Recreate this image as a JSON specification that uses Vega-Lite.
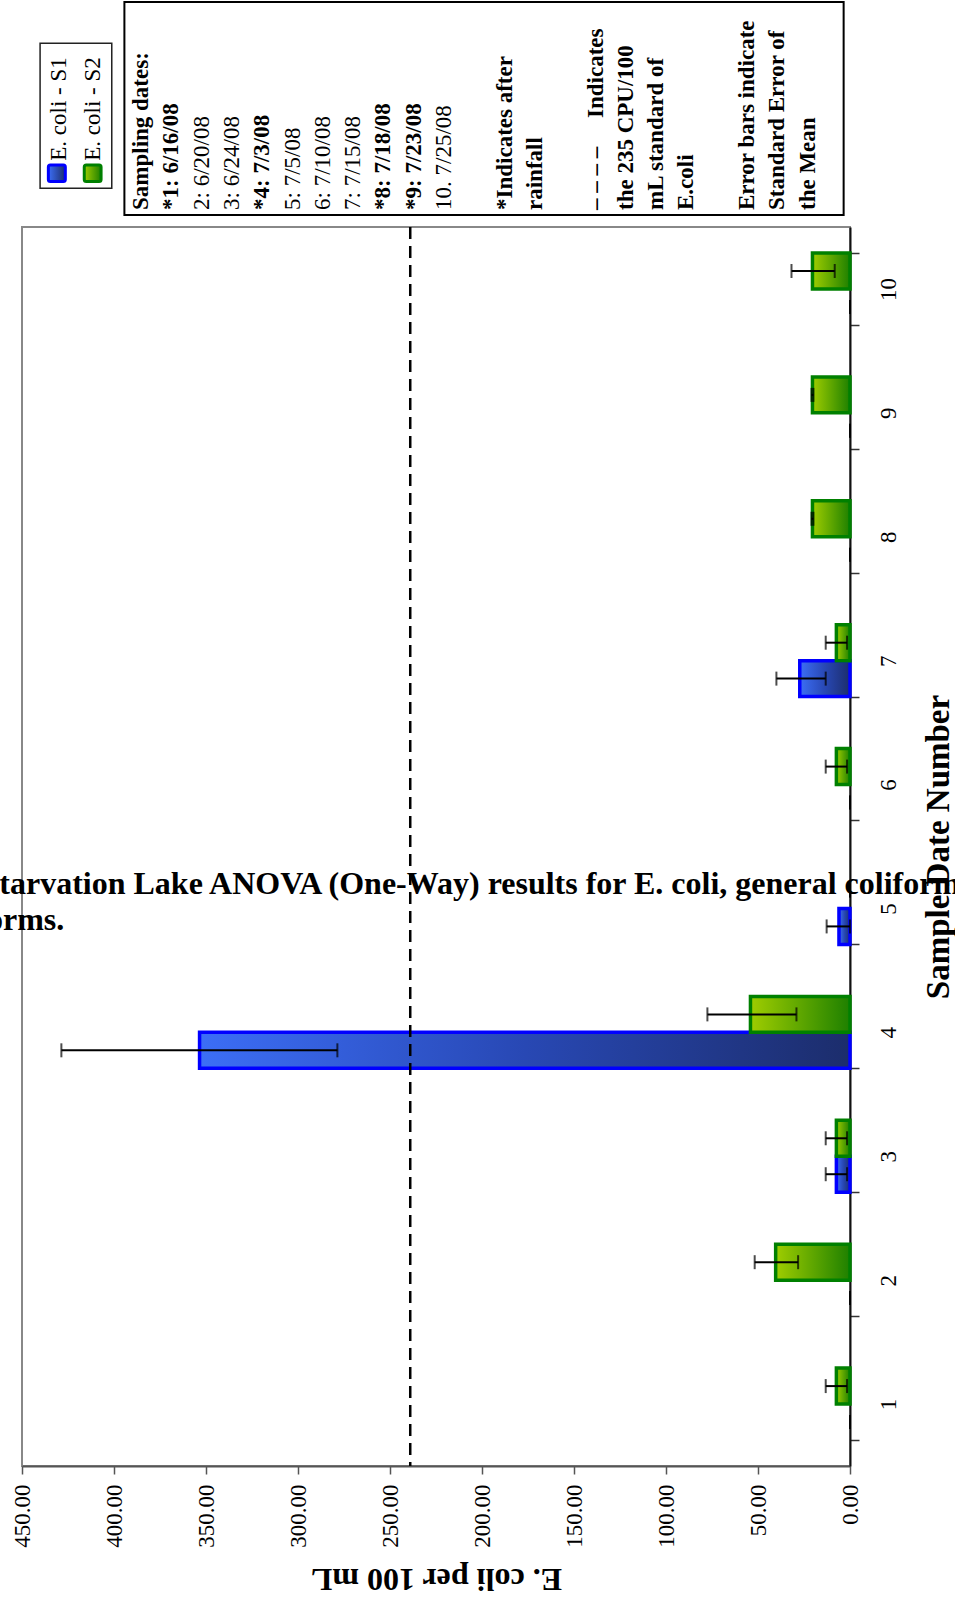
{
  "$schema": "https://vega.github.io/schema/vega-lite/v6.json",
  "width": 828,
  "height": 1239,
  "autosize": {"type": "none"},
  "padding": {"left": 22, "top": 227, "right": 105, "bottom": 138},
  "config": {
    "font": "Liberation Serif",
    "view": {"stroke": "#888888", "strokeWidth": 2},
    "axis": {"labelFont": "Liberation Serif", "titleFont": "Liberation Serif", "labelColor": "black", "titleColor": "black", "grid": false},
    "axisY": {
      "labelAngle": 270, "labelAlign": "center", "labelBaseline": "top",
      "labelFontSize": 23, "labelPadding": 18, "tickSize": 9, "tickBand": "extent",
      "tickColor": "#333333", "tickWidth": 1.5, "domainColor": "#111111", "domainWidth": 2,
      "titleAngle": 270, "titleBaseline": "top", "titleAlign": "center",
      "titleFontSize": 33, "titleFontWeight": "bold", "titlePadding": 22
    }
  },
  "datasets": {
    "bars": [
      {"sample": 1, "series": "S1", "value": 0, "lo": 0, "hi": 0},
      {"sample": 1, "series": "S2", "value": 7.4, "lo": 1.6, "hi": 13.2},
      {"sample": 2, "series": "S1", "value": 0, "lo": 0, "hi": 0},
      {"sample": 2, "series": "S2", "value": 40.4, "lo": 28.2, "hi": 51.8},
      {"sample": 3, "series": "S1", "value": 7.4, "lo": 1.6, "hi": 13.2},
      {"sample": 3, "series": "S2", "value": 7.4, "lo": 1.6, "hi": 13.2},
      {"sample": 4, "series": "S1", "value": 353.5, "lo": 278.6, "hi": 428.6},
      {"sample": 4, "series": "S2", "value": 54.1, "lo": 29.1, "hi": 77.5},
      {"sample": 5, "series": "S1", "value": 6.0, "lo": 0, "hi": 12.7},
      {"sample": 5, "series": "S2", "value": 0, "lo": 0, "hi": 0},
      {"sample": 6, "series": "S1", "value": 0, "lo": 0, "hi": 0},
      {"sample": 6, "series": "S2", "value": 7.4, "lo": 1.6, "hi": 13.2},
      {"sample": 7, "series": "S1", "value": 27.3, "lo": 13.2, "hi": 40.0},
      {"sample": 7, "series": "S2", "value": 7.4, "lo": 1.6, "hi": 13.2},
      {"sample": 8, "series": "S1", "value": 0, "lo": 0, "hi": 0},
      {"sample": 8, "series": "S2", "value": 20.4, "lo": 19.9, "hi": 20.9},
      {"sample": 9, "series": "S1", "value": 0, "lo": 0, "hi": 0},
      {"sample": 9, "series": "S2", "value": 20.4, "lo": 19.9, "hi": 20.9},
      {"sample": 10, "series": "S1", "value": 0, "lo": 0, "hi": 0},
      {"sample": 10, "series": "S2", "value": 20.4, "lo": 8.3, "hi": 31.8}
    ],
    "notes": [
      {"line": 0, "text": "Sampling dates:", "weight": "bold"},
      {"line": 1, "text": "*1: 6/16/08", "weight": "bold"},
      {"line": 2, "text": "2: 6/20/08", "weight": "normal"},
      {"line": 3, "text": "3: 6/24/08", "weight": "normal"},
      {"line": 4, "text": "*4: 7/3/08", "weight": "bold"},
      {"line": 5, "text": "5: 7/5/08", "weight": "normal"},
      {"line": 6, "text": "6: 7/10/08", "weight": "normal"},
      {"line": 7, "text": "7: 7/15/08", "weight": "normal"},
      {"line": 8, "text": "*8: 7/18/08", "weight": "bold"},
      {"line": 9, "text": "*9: 7/23/08", "weight": "bold"},
      {"line": 10, "text": "10. 7/25/08", "weight": "normal"},
      {"line": 12, "text": "*Indicates after", "weight": "bold"},
      {"line": 13, "text": "rainfall", "weight": "bold"},
      {"line": 15, "text": "– – – –\u00a0\u00a0\u00a0\u00a0\u00a0Indicates", "weight": "bold"},
      {"line": 16, "text": "the 235 CPU/100", "weight": "bold"},
      {"line": 17, "text": "mL standard of", "weight": "bold"},
      {"line": 18, "text": "E.coli", "weight": "bold"},
      {"line": 20, "text": "Error bars indicate", "weight": "bold"},
      {"line": 21, "text": "Standard Error of", "weight": "bold"},
      {"line": 22, "text": "the Mean", "weight": "bold"}
    ]
  },
  "layer": [
    {
      "layer": [
        {
          "data": {"name": "bars"},
          "transform": [{"filter": "datum.series === 'S1' && datum.value > 0"}],
          "mark": {
            "type": "bar",
            "fill": {"gradient": "linear", "x1": 0, "y1": 0, "x2": 1, "y2": 0,
              "stops": [{"offset": 0, "color": "#3c6ef6"}, {"offset": 0.5, "color": "#2848b4"}, {"offset": 1, "color": "#1c2d6c"}]},
            "stroke": "#0000ff",
            "strokeWidth": 3.5
          },
          "encoding": {
            "x": {
              "field": "value", "type": "quantitative",
              "scale": {"domain": [0, 450], "reverse": true, "nice": false, "zero": true},
              "axis": {
                "orient": "bottom", "title": "E. coli  per 100 mL",
                "values": [0, 50, 100, 150, 200, 250, 300, 350, 400, 450], "format": ".2f",
                "labelAngle": 270, "labelAlign": "right", "labelBaseline": "middle", "labelFontSize": 23,
                "labelOverlap": false, "labelFlush": false,
                "labelPadding": 10, "tickSize": 8, "tickColor": "#555555", "tickWidth": 1.5,
                "domainColor": "#555555", "domainWidth": 2,
                "titleAngle": 180, "titleBaseline": "bottom", "titleAlign": "center",
                "titleFontSize": 32, "titleFontWeight": "bold", "titlePadding": 14
              }
            },
            "y": {
              "field": "sample", "type": "ordinal", "sort": "descending",
              "scale": {"paddingInner": 0.42, "paddingOuter": 0.21},
              "axis": {"orient": "right", "title": "Sample Date Number"}
            },
            "yOffset": {"field": "series", "type": "nominal", "scale": {"domain": ["S2", "S1"], "paddingInner": 0, "paddingOuter": 0}}
          }
        },
        {
          "data": {"name": "bars"},
          "transform": [{"filter": "datum.series === 'S2' && datum.value > 0"}],
          "mark": {
            "type": "bar",
            "fill": {"gradient": "linear", "x1": 0, "y1": 0, "x2": 1, "y2": 0,
              "stops": [{"offset": 0, "color": "#9fcd00"}, {"offset": 1, "color": "#1e8000"}]},
            "stroke": "#008000",
            "strokeWidth": 3.5
          },
          "encoding": {
            "x": {"field": "value", "type": "quantitative", "axis": {"orient": "bottom", "title": "E. coli  per 100 mL"}},
            "y": {"field": "sample", "type": "ordinal", "sort": "descending", "axis": {"orient": "right", "title": "Sample Date Number"}},
            "yOffset": {"field": "series", "type": "nominal"}
          }
        },
        {
          "data": {"name": "bars"},
          "mark": {"type": "rule", "color": "black", "strokeWidth": 2},
          "encoding": {
            "x": {"field": "lo", "type": "quantitative", "axis": {"orient": "bottom", "title": "E. coli  per 100 mL"}},
            "x2": {"field": "hi"},
            "y": {"field": "sample", "type": "ordinal", "sort": "descending", "axis": {"orient": "right", "title": "Sample Date Number"}},
            "yOffset": {"field": "series", "type": "nominal"}
          }
        },
        {
          "data": {"name": "bars"},
          "mark": {"type": "tick", "color": "black", "thickness": 2, "size": 14, "orient": "vertical"},
          "encoding": {
            "x": {"field": "lo", "type": "quantitative", "axis": {"orient": "bottom", "title": "E. coli  per 100 mL"}},
            "y": {"field": "sample", "type": "ordinal", "sort": "descending", "axis": {"orient": "right", "title": "Sample Date Number"}},
            "yOffset": {"field": "series", "type": "nominal"}
          }
        },
        {
          "data": {"name": "bars"},
          "mark": {"type": "tick", "color": "black", "thickness": 2, "size": 14, "orient": "vertical"},
          "encoding": {
            "x": {"field": "hi", "type": "quantitative", "axis": {"orient": "bottom", "title": "E. coli  per 100 mL"}},
            "y": {"field": "sample", "type": "ordinal", "sort": "descending", "axis": {"orient": "right", "title": "Sample Date Number"}},
            "yOffset": {"field": "series", "type": "nominal"}
          }
        },
        {
          "data": {"values": [{"standard": 239}]},
          "mark": {"type": "rule", "color": "black", "strokeWidth": 2.5, "strokeDash": [12, 7]},
          "encoding": {
            "x": {"field": "standard", "type": "quantitative", "axis": {"orient": "bottom", "title": "E. coli  per 100 mL"}}
          }
        },
        {
          "data": {"values": [{"caption": "Starvation Lake ANOVA (One-Way) results for E. coli, general coliforms, and fecal"}]},
          "mark": {"type": "text", "align": "left", "baseline": "alphabetic", "dy": -14, "fontSize": 32, "fontWeight": "bold", "color": "black", "font": "Liberation Serif"},
          "encoding": {
            "x": {"datum": 472, "type": "quantitative", "axis": {"orient": "bottom", "title": "E. coli  per 100 mL"}},
            "y": {"datum": 5, "type": "ordinal", "axis": {"orient": "right", "title": "Sample Date Number"}},
            "text": {"field": "caption"}
          }
        },
        {
          "data": {"values": [{"caption": "coliforms."}]},
          "mark": {"type": "text", "align": "right", "baseline": "alphabetic", "dy": 22, "fontSize": 32, "fontWeight": "bold", "color": "black", "font": "Liberation Serif"},
          "encoding": {
            "x": {"datum": 427, "type": "quantitative", "axis": {"orient": "bottom", "title": "E. coli  per 100 mL"}},
            "y": {"datum": 5, "type": "ordinal", "axis": {"orient": "right", "title": "Sample Date Number"}},
            "text": {"field": "caption"}
          }
        }
      ]
    },
    {
      "layer": [
        {
          "data": {"values": [{"box": "notes"}]},
          "mark": {"type": "rect", "filled": false, "stroke": "black", "strokeWidth": 2},
          "encoding": {
            "x": {"datum": -0.55, "type": "quantitative", "scale": {"domain": [-3.93, 23.4], "nice": false, "zero": false}, "axis": null},
            "x2": {"datum": 23.19},
            "y": {"datum": 12, "type": "quantitative", "scale": {"domain": [-1239, 0], "nice": false, "zero": false}, "axis": null},
            "y2": {"datum": 225}
          }
        },
        {
          "data": {"name": "notes"},
          "transform": [{"filter": "datum.weight === 'bold'"}],
          "mark": {"type": "text", "angle": 270, "align": "left", "baseline": "middle", "fontSize": 23, "fontWeight": "bold", "color": "black", "font": "Liberation Serif"},
          "encoding": {
            "x": {"field": "line", "type": "quantitative", "axis": null},
            "y": {"datum": 17, "type": "quantitative", "axis": null},
            "text": {"field": "text"}
          }
        },
        {
          "data": {"name": "notes"},
          "transform": [{"filter": "datum.weight === 'normal'"}],
          "mark": {"type": "text", "angle": 270, "align": "left", "baseline": "middle", "fontSize": 23, "fontWeight": "normal", "color": "black", "font": "Liberation Serif"},
          "encoding": {
            "x": {"field": "line", "type": "quantitative", "axis": null},
            "y": {"datum": 17, "type": "quantitative", "axis": null},
            "text": {"field": "text"}
          }
        },
        {
          "data": {"values": [{"box": "legend"}]},
          "mark": {"type": "rect", "filled": false, "stroke": "#222222", "strokeWidth": 1.5},
          "encoding": {
            "x": {"datum": -3.333, "type": "quantitative", "axis": null},
            "x2": {"datum": -0.967},
            "y": {"datum": 38.7, "type": "quantitative", "axis": null},
            "y2": {"datum": 183.7}
          }
        },
        {
          "data": {"values": [{"series": "S1"}]},
          "mark": {
            "type": "rect", "stroke": "#0000ff", "strokeWidth": 3, "cornerRadius": 2,
            "fill": {"gradient": "linear", "x1": 0, "y1": 0, "x2": 1, "y2": 0,
              "stops": [{"offset": 0, "color": "#3c6ef6"}, {"offset": 1, "color": "#1c2d6c"}]}
          },
          "encoding": {
            "x": {"datum": -3.06, "type": "quantitative", "axis": null},
            "x2": {"datum": -2.5},
            "y": {"datum": 45.5, "type": "quantitative", "axis": null},
            "y2": {"datum": 62}
          }
        },
        {
          "data": {"values": [{"series": "S2"}]},
          "mark": {
            "type": "rect", "stroke": "#008000", "strokeWidth": 3, "cornerRadius": 2,
            "fill": {"gradient": "linear", "x1": 0, "y1": 0, "x2": 1, "y2": 0,
              "stops": [{"offset": 0, "color": "#9fcd00"}, {"offset": 1, "color": "#1e8000"}]}
          },
          "encoding": {
            "x": {"datum": -1.875, "type": "quantitative", "axis": null},
            "x2": {"datum": -1.32},
            "y": {"datum": 45.5, "type": "quantitative", "axis": null},
            "y2": {"datum": 62}
          }
        },
        {
          "data": {"values": [{"label": "E. coli - S1"}]},
          "mark": {"type": "text", "angle": 270, "align": "left", "baseline": "middle", "fontSize": 23, "color": "black", "font": "Liberation Serif"},
          "encoding": {
            "x": {"datum": -2.723, "type": "quantitative", "axis": null},
            "y": {"datum": 66.3, "type": "quantitative", "axis": null},
            "text": {"field": "label"}
          }
        },
        {
          "data": {"values": [{"label": "E. coli - S2"}]},
          "mark": {"type": "text", "angle": 270, "align": "left", "baseline": "middle", "fontSize": 23, "color": "black", "font": "Liberation Serif"},
          "encoding": {
            "x": {"datum": -1.574, "type": "quantitative", "axis": null},
            "y": {"datum": 66.3, "type": "quantitative", "axis": null},
            "text": {"field": "label"}
          }
        }
      ]
    }
  ],
  "resolve": {"scale": {"x": "independent", "y": "independent"}, "axis": {"x": "independent", "y": "independent"}}
}
